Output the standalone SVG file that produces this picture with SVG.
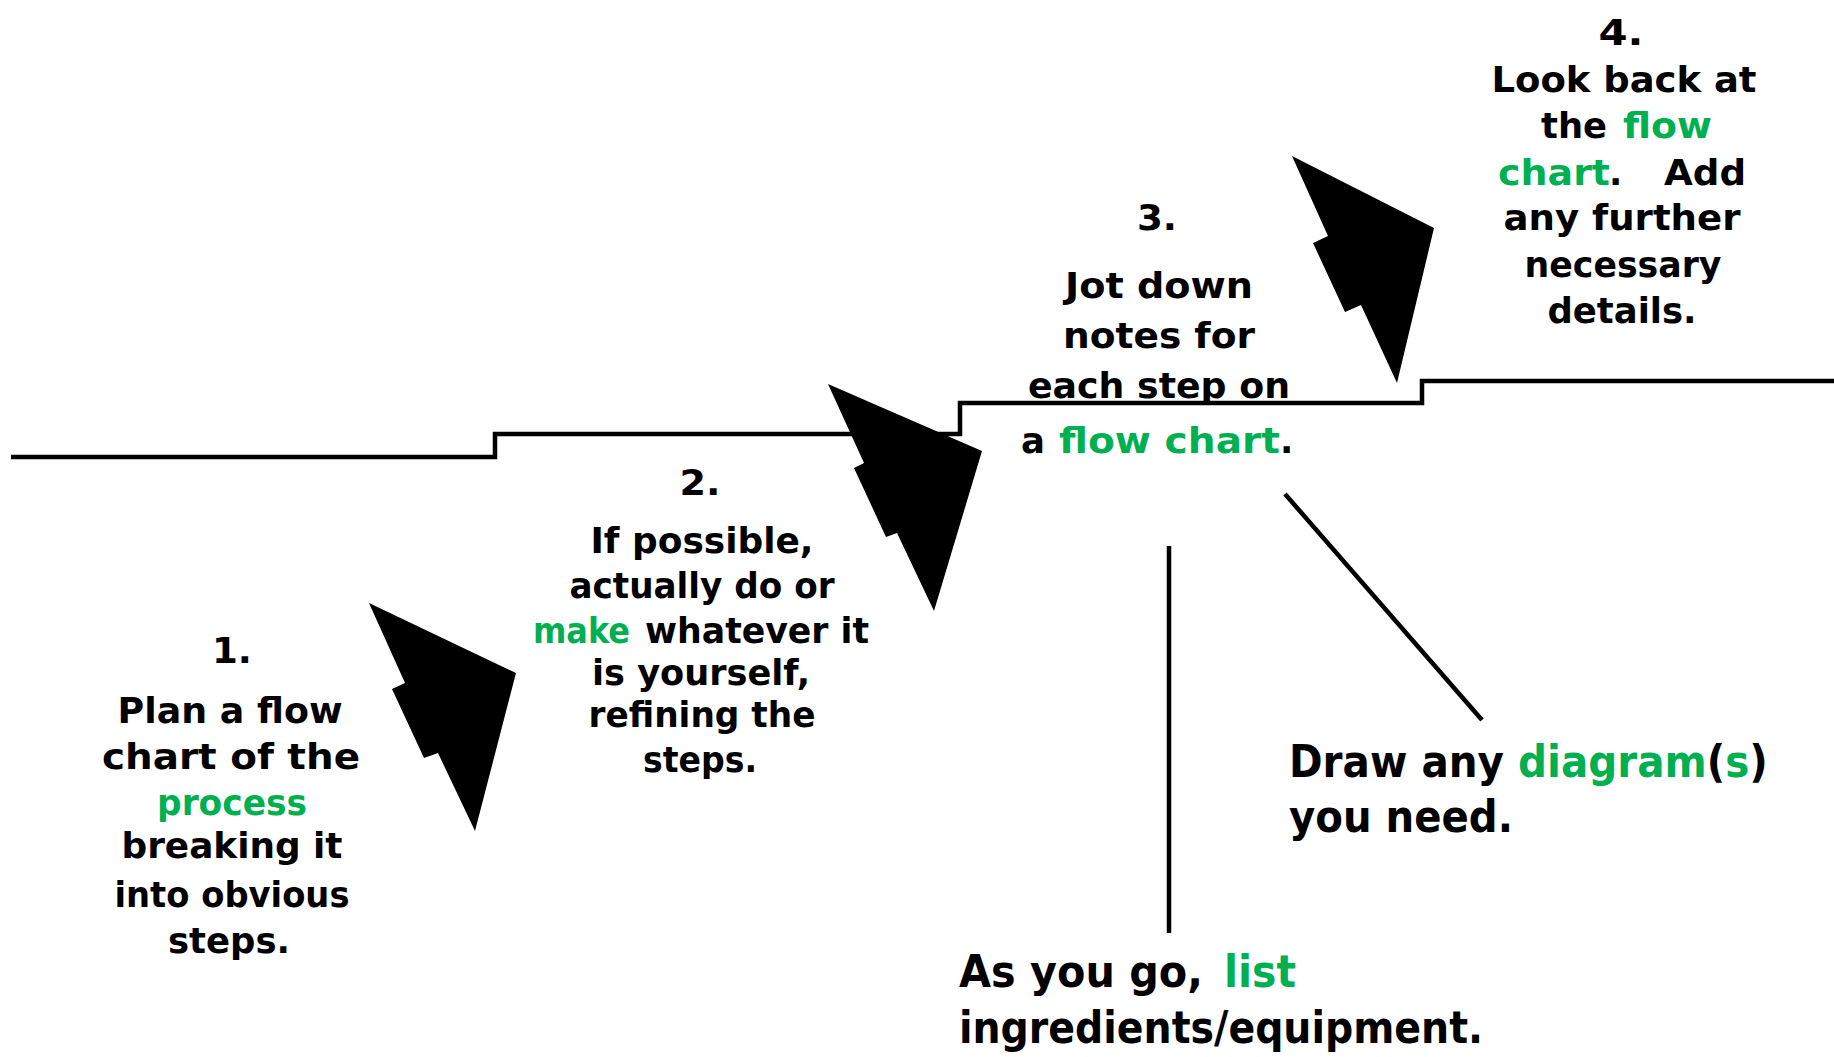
<svg xmlns="http://www.w3.org/2000/svg" width="1834" height="1057" viewBox="0 0 1834 1057">
<style>
  text { font-family: "Comic Sans MS", "DejaVu Sans", "Noto Sans", sans-serif; font-weight: bold; fill: #000; }
  .s { font-size: 35px; text-anchor: middle; }
  .p { font-size: 35px; }
  .l { font-size: 45px; }
  .g { fill: #00B050; }
  .arrow { fill: #000; stroke: none; }
  .line { fill: none; stroke: #000; stroke-width: 4.5; stroke-linejoin: miter; }
</style>
<rect width="1834" height="1057" fill="#fff"/>

<g id="staircase">
  <path class="line" d="M 11 457 H 495 V 434 H 960 V 403 H 1422 V 381 H 1834"/>
</g>

<g id="connectors">
  <polygon class="arrow" points="369,603 516,673 475,831 438,753 424,758 392,689 405,683"/>
  <polygon class="arrow" points="828,384 982,451 934,611 897,533 886,537 854,468 864,463"/>
  <polygon class="arrow" points="1292,156 1434,228 1397,383 1361,305 1345,312 1313,243 1328,236"/>
  <line class="line" x1="1169" y1="546" x2="1169" y2="933"/>
  <line class="line" x1="1285" y1="494" x2="1482" y2="720"/>
</g>

<g id="step1">
  <text class="s" x="232" y="663" textLength="40" lengthAdjust="spacingAndGlyphs">1.</text>
  <text class="s" x="230" y="723" textLength="225" lengthAdjust="spacingAndGlyphs">Plan a flow</text>
  <text class="s" x="231" y="769" textLength="258" lengthAdjust="spacingAndGlyphs">chart of the</text>
  <text class="s g" x="232" y="815" textLength="150" lengthAdjust="spacingAndGlyphs">process</text>
  <text class="s" x="232" y="858" textLength="221" lengthAdjust="spacingAndGlyphs">breaking it</text>
  <text class="s" x="232" y="907" textLength="235" lengthAdjust="spacingAndGlyphs">into obvious</text>
  <text class="s" x="229" y="953" textLength="122" lengthAdjust="spacingAndGlyphs">steps.</text>
</g>

<g id="step2">
  <text class="s" x="700" y="495" textLength="41" lengthAdjust="spacingAndGlyphs">2.</text>
  <text class="s" x="702" y="553" textLength="223" lengthAdjust="spacingAndGlyphs">If possible,</text>
  <text class="s" x="702" y="598" textLength="265" lengthAdjust="spacingAndGlyphs">actually do or</text>
  <text class="p g" x="533" y="643" textLength="97" lengthAdjust="spacingAndGlyphs">make</text>
  <text class="p" x="645" y="643" textLength="224" lengthAdjust="spacingAndGlyphs">whatever it</text>
  <text class="s" x="701" y="685" textLength="218" lengthAdjust="spacingAndGlyphs">is yourself,</text>
  <text class="s" x="702" y="727" textLength="227" lengthAdjust="spacingAndGlyphs">refining the</text>
  <text class="s" x="700" y="772" textLength="114" lengthAdjust="spacingAndGlyphs">steps.</text>
</g>

<g id="step3">
  <text class="s" x="1157" y="230" textLength="40" lengthAdjust="spacingAndGlyphs">3.</text>
  <text class="s" x="1159" y="298" textLength="188" lengthAdjust="spacingAndGlyphs">Jot down</text>
  <text class="s" x="1159" y="348" textLength="192" lengthAdjust="spacingAndGlyphs">notes for</text>
  <text class="s" x="1159" y="398" textLength="262" lengthAdjust="spacingAndGlyphs">each step on</text>
  <text class="p" x="1021" y="453" textLength="24" lengthAdjust="spacingAndGlyphs">a</text>
  <text class="p g" x="1059" y="453" textLength="221" lengthAdjust="spacingAndGlyphs">flow chart</text>
  <text class="p" x="1280" y="453">.</text>
</g>

<g id="step4">
  <text class="s" x="1621" y="45" textLength="45" lengthAdjust="spacingAndGlyphs">4.</text>
  <text class="s" x="1624" y="92" textLength="265" lengthAdjust="spacingAndGlyphs">Look back at</text>
  <text class="p" x="1541" y="138" textLength="66" lengthAdjust="spacingAndGlyphs">the</text>
  <text class="p g" x="1623" y="138" textLength="89" lengthAdjust="spacingAndGlyphs">flow</text>
  <text class="p g" x="1498" y="185" textLength="112" lengthAdjust="spacingAndGlyphs">chart</text>
  <text class="p" x="1609" y="185">.</text>
  <text class="p" x="1664" y="185" textLength="82" lengthAdjust="spacingAndGlyphs">Add</text>
  <text class="s" x="1622" y="230" textLength="237" lengthAdjust="spacingAndGlyphs">any further</text>
  <text class="s" x="1623" y="277" textLength="197" lengthAdjust="spacingAndGlyphs">necessary</text>
  <text class="s" x="1622" y="323" textLength="149" lengthAdjust="spacingAndGlyphs">details.</text>
</g>

<g id="diagrams">
  <g transform="translate(1289,777) scale(0.9,1)">
    <text class="l" x="0" y="0">Draw any <tspan class="g">diagram</tspan>(<tspan class="g">s</tspan>)</text>
  </g>
  <text class="l" x="1289" y="832" textLength="224" lengthAdjust="spacingAndGlyphs">you need.</text>
</g>

<g id="list">
  <text class="l" x="959" y="987" textLength="244" lengthAdjust="spacingAndGlyphs">As you go,</text>
  <text class="l g" x="1224" y="987" textLength="72" lengthAdjust="spacingAndGlyphs">list</text>
  <text class="l" x="959" y="1043" textLength="524" lengthAdjust="spacingAndGlyphs">ingredients/equipment.</text>
</g>
</svg>
